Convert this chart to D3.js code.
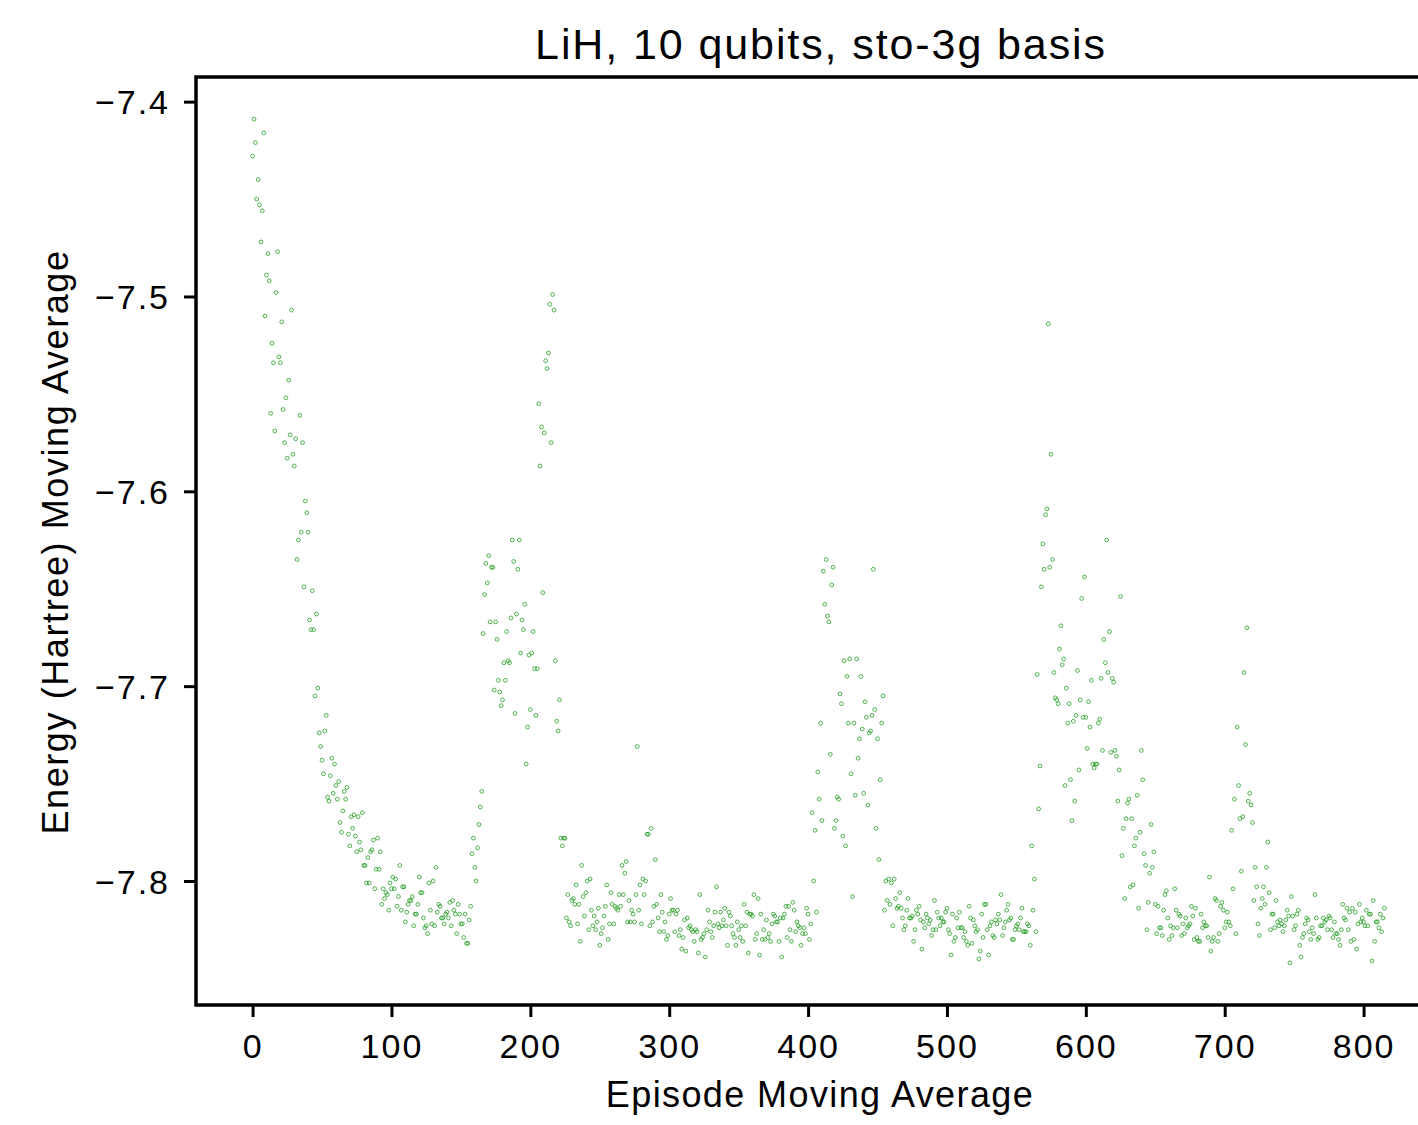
<!DOCTYPE html>
<html>
<head>
<meta charset="utf-8">
<script src="https://cdn.jsdelivr.net/npm/d3@7"></script>
<style>
  body { margin: 0; background: #fff; }
  svg { display: block; font-family: "Liberation Sans", Arial, sans-serif; }
</style>
</head>
<body>
<svg id="chart" width="1418" height="1125"></svg>
<script>
// energies, one array per stretch of episodes (episode = position in the joined list)
var energyA = [
  -7.428,-7.409,-7.421,-7.450,-7.440,-7.453,-7.472,-7.456,-7.416,-7.510,
  -7.489,-7.478,-7.492,-7.560,-7.524,-7.534,-7.569,-7.498,-7.477,-7.531,
  -7.534,-7.513,-7.558,-7.575,-7.552,-7.583,-7.543,-7.571,-7.507,-7.581,
  -7.587,-7.573,-7.635,-7.625,-7.561,-7.621,-7.575,-7.649,-7.605,-7.611,
  -7.621,-7.666,-7.671,-7.651,-7.671,-7.705,-7.663,-7.701,-7.724,-7.731,
  -7.738,-7.745,-7.723,-7.715,-7.757,-7.759,-7.746,-7.737,-7.755,-7.740,
  -7.751,-7.758,-7.749,-7.770,-7.775,-7.764,-7.754,-7.758,-7.752,-7.776,
  -7.782,-7.767,-7.773,-7.766,-7.777,-7.785,-7.767,-7.780,-7.784,-7.765,
  -7.792,-7.792,-7.801,-7.788,-7.801,-7.785,-7.784,-7.779,-7.804,-7.794,
  -7.778,-7.794,-7.785,-7.812,-7.804,-7.809,-7.806,-7.807,-7.815,-7.801
];
var energyB = [
  -7.804,-7.798,-7.804,-7.799,-7.813,-7.808,-7.792,-7.815,-7.803,-7.803,
  -7.821,-7.816,-7.812,-7.810,-7.810,-7.808,-7.823,-7.817,-7.817,-7.812,
  -7.798,-7.806,-7.806,-7.819,-7.824,-7.823,-7.827,-7.801,-7.815,-7.822,
  -7.800,-7.823,-7.793,-7.816,-7.812,-7.813,-7.819,-7.819,-7.822,-7.817,
  -7.816,-7.819,-7.811,-7.823,-7.810,-7.815,-7.817,-7.827,-7.812,-7.817,
  -7.822,-7.822,-7.829,-7.817,-7.832,-7.832,-7.820,-7.813,-7.786,-7.778,
  -7.793,-7.800,-7.783,-7.771,-7.762,-7.754,-7.673,-7.653,-7.637,-7.647,
  -7.633,-7.667,-7.639,-7.639,-7.702,-7.667,-7.676,-7.697,-7.703,-7.710,
  -7.707,-7.688,-7.697,-7.672,-7.687,-7.688,-7.665,-7.625,-7.636,-7.714,
  -7.663,-7.640,-7.625,-7.683,-7.666,-7.671,-7.658,-7.740,-7.721,-7.684
];
var energyC = [
  -7.712,-7.683,-7.672,-7.691,-7.715,-7.691,-7.555,-7.587,-7.567,-7.652,
  -7.570,-7.533,-7.537,-7.529,-7.504,-7.575,-7.499,-7.507,-7.687,-7.718,
  -7.723,-7.707,-7.778,-7.782,-7.778,-7.778,-7.819,-7.807,-7.821,-7.823,
  -7.810,-7.809,-7.812,-7.802,-7.822,-7.812,-7.831,-7.792,-7.808,-7.818,
  -7.806,-7.800,-7.825,-7.799,-7.815,-7.823,-7.818,-7.825,-7.821,-7.814,
  -7.833,-7.827,-7.824,-7.818,-7.813,-7.802,-7.830,-7.822,-7.806,-7.812,
  -7.822,-7.813,-7.814,-7.815,-7.807,-7.813,-7.792,-7.807,-7.796,-7.790,
  -7.821,-7.810,-7.821,-7.815,-7.817,-7.821,-7.807,-7.731,-7.815,-7.802,
  -7.822,-7.799,-7.807,-7.800,-7.776,-7.776,-7.823,-7.773,-7.821,-7.813,
  -7.789,-7.812,-7.819,-7.826,-7.807,-7.816,-7.826,-7.821,-7.830,-7.828
];
var energyD = [
  -7.817,-7.809,-7.815,-7.815,-7.826,-7.817,-7.815,-7.828,-7.825,-7.835,
  -7.829,-7.820,-7.836,-7.819,-7.824,-7.823,-7.825,-7.826,-7.831,-7.825,
  -7.826,-7.837,-7.807,-7.830,-7.829,-7.827,-7.839,-7.825,-7.815,-7.821,
  -7.826,-7.829,-7.823,-7.816,-7.803,-7.822,-7.824,-7.816,-7.823,-7.820,
  -7.814,-7.823,-7.833,-7.816,-7.818,-7.823,-7.827,-7.829,-7.833,-7.821,
  -7.825,-7.829,-7.823,-7.831,-7.812,-7.823,-7.816,-7.837,-7.817,-7.817,
  -7.818,-7.807,-7.830,-7.827,-7.809,-7.838,-7.817,-7.830,-7.825,-7.830,
  -7.820,-7.829,-7.827,-7.831,-7.822,-7.817,-7.818,-7.821,-7.821,-7.831,
  -7.819,-7.839,-7.819,-7.817,-7.813,-7.829,-7.813,-7.825,-7.831,-7.811,
  -7.815,-7.826,-7.821,-7.823,-7.824,-7.833,-7.827,-7.824,-7.827,-7.814,
  -7.817,-7.830
];
var energyE = [
  -7.822,-7.765,-7.800,-7.774,-7.816,-7.744,-7.758,-7.719,-7.769,-7.641,
  -7.658,-7.635,-7.664,-7.667,-7.735,-7.648,-7.639,-7.773,-7.769,-7.757,
  -7.758,-7.704,-7.709,-7.777,-7.687,-7.782,-7.695,-7.719,-7.686,-7.745,
  -7.808,-7.719,-7.756,-7.686,-7.737,-7.727,-7.695,-7.722,-7.755,-7.708,
  -7.716,-7.761,-7.724,-7.723,-7.715,-7.640,-7.712,-7.773,-7.727,-7.789,
  -7.748,-7.719,-7.705,-7.815,-7.800,-7.810,-7.799,-7.812,-7.801,-7.823,
  -7.799,-7.809,-7.814,-7.813,-7.806,-7.814,-7.819,-7.825,-7.823,-7.815,
  -7.809,-7.819,-7.819,-7.818,-7.831,-7.825,-7.815,-7.817,-7.813,-7.820,
  -7.835,-7.821,-7.824,-7.817,-7.819,-7.822,-7.820,-7.828,-7.825,-7.810,
  -7.825,-7.816,-7.819,-7.823,-7.819,-7.821,-7.821,-7.816
];
var energyF = [
  -7.814,-7.825,-7.827,-7.838,-7.817,-7.831,-7.829,-7.819,-7.824,-7.816,
  -7.824,-7.824,-7.829,-7.826,-7.831,-7.833,-7.813,-7.819,-7.832,-7.820,
  -7.823,-7.826,-7.825,-7.840,-7.836,-7.817,-7.829,-7.812,-7.812,-7.825,
  -7.838,-7.823,-7.821,-7.828,-7.829,-7.820,-7.822,-7.817,-7.820,-7.807,
  -7.828,-7.824,-7.821,-7.815,-7.812,-7.820,-7.819,-7.830,-7.830,-7.825,
  -7.823,-7.822,-7.825,-7.819,-7.814,-7.826,-7.826,-7.826,-7.822,-7.823,
  -7.833,-7.782,-7.815,-7.799,-7.826,-7.694,-7.763,-7.741,-7.649,-7.627,
  -7.640,-7.612,-7.609,-7.514,-7.639,-7.581,-7.635,-7.693,-7.706,-7.707,
  -7.709,-7.681,-7.669,-7.689,-7.686,-7.751,-7.701,-7.719,-7.709,-7.748,
  -7.769,-7.718,-7.759,-7.715,-7.692,-7.743,-7.707,-7.655,-7.716,-7.644
];
var energyG = [
  -7.716,-7.732,-7.708,-7.721,-7.697,-7.740,-7.742,-7.740,-7.740,-7.719,
  -7.717,-7.696,-7.733,-7.676,-7.688,-7.625,-7.693,-7.672,-7.734,-7.696,
  -7.698,-7.733,-7.736,-7.759,-7.743,-7.654,-7.787,-7.773,-7.809,-7.768,
  -7.760,-7.758,-7.803,-7.768,-7.802,-7.782,-7.778,-7.756,-7.814,-7.775,
  -7.733,-7.748,-7.786,-7.792,-7.825,-7.811,-7.796,-7.771,-7.793,-7.785,
  -7.812,-7.827,-7.813,-7.824,-7.824,-7.828,-7.815,-7.807,-7.805,-7.819,
  -7.830,-7.823,-7.828,-7.824,-7.804,-7.815,-7.824,-7.817,-7.818,-7.828,
  -7.822,-7.827,-7.819,-7.824,-7.823,-7.822,-7.813,-7.818,-7.830,-7.814,
  -7.829,-7.831,-7.831,-7.817,-7.824,-7.821,-7.823,-7.823,-7.829,-7.798,
  -7.836,-7.831,-7.829,-7.809,-7.810,-7.831,-7.827,-7.813,-7.811,-7.815
];
var energyH = [
  -7.824,-7.821,-7.816,-7.821,-7.823,-7.774,-7.804,-7.758,-7.827,-7.721,
  -7.751,-7.768,-7.795,-7.767,-7.693,-7.730,-7.670,-7.759,-7.755,-7.761,
  -7.770,-7.810,-7.793,-7.803,-7.822,-7.828,-7.814,-7.809,-7.803,-7.812,
  -7.793,-7.780,-7.806,-7.825,-7.817,-7.817,-7.824,-7.810,-7.821,-7.823,
  -7.820,-7.822,-7.826,-7.823,-7.820,-7.815,-7.818,-7.842,-7.808,-7.818,
  -7.825,-7.823,-7.817,-7.815,-7.833,-7.839,-7.829,-7.827,-7.822,-7.819,
  -7.820,-7.826,-7.830,-7.824,-7.827,-7.807,-7.819,-7.830,-7.829,-7.823,
  -7.823,-7.819,-7.821,-7.820,-7.825,-7.818,-7.819,-7.825,-7.829,-7.821,
  -7.827,-7.827,-7.830,-7.833,-7.825,-7.812,-7.819,-7.820,-7.814,-7.825,
  -7.816,-7.831,-7.814,-7.830,-7.816,-7.835,-7.822,-7.812,-7.821,-7.819,
  -7.821,-7.823,-7.815,-7.823,-7.817,-7.817,-7.841,-7.810,-7.831,-7.821,
  -7.821,-7.824,-7.817,-7.826,-7.819,-7.814
];

var xTicks = [0, 100, 200, 300, 400, 500, 600, 700, 800];
var yTicks = [-7.8, -7.7, -7.6, -7.5, -7.4];

var energies = [].concat(energyA, energyB, energyC, energyD, energyE, energyF, energyG, energyH);
var points = energies.map((e, i) => ({ episode: i, energy: e }));

var margin = { top: 77, left: 196 },
    width = 1245,
    height = 928;

var svg = d3.select("#chart");
var g = svg.append("g")
    .attr("transform", "translate(" + margin.left + "," + margin.top + ")");

// matplotlib style 5% padding around the data
var xPad = (points.length - 1) * 0.05;
var yExt = d3.extent(energies), yPad = (yExt[1] - yExt[0]) * 0.05;

var x = d3.scaleLinear()
    .domain([-xPad, points.length - 1 + xPad])
    .range([0, width]);
var y = d3.scaleLinear()
    .domain([yExt[0] - yPad, yExt[1] + yPad])
    .range([height, 0]);

g.append("g")
    .selectAll("circle")
    .data(points)
    .enter().append("circle")
    .attr("cx", d => x(d.episode))
    .attr("cy", d => y(d.energy))
    .attr("r", 1.9)
    .attr("fill", "none")
    .attr("stroke", "#1a9a1a")
    .attr("stroke-width", 0.75);

var xAxis = g.append("g")
    .attr("transform", "translate(0," + height + ")")
    .call(d3.axisBottom(x).tickValues(xTicks).tickSize(12).tickSizeOuter(0).tickPadding(17));

var yAxis = g.append("g")
    .call(d3.axisLeft(y).tickValues(yTicks).tickFormat(d3.format(".1f")).tickSize(12).tickSizeOuter(0).tickPadding(14));

[xAxis, yAxis].forEach(function(ax) {
    ax.select(".domain").remove();
    ax.selectAll(".tick line").attr("stroke", "#000").attr("stroke-width", 3);
    ax.selectAll(".tick text")
        .attr("fill", "#000")
        .style("font-family", "'Liberation Sans', Arial, sans-serif")
        .style("font-size", "34px")
        .style("letter-spacing", "2px");
});
yAxis.selectAll(".tick text").attr("dy", "0.36em");
xAxis.selectAll(".tick text").attr("dy", "0.72em");

// frame
g.append("rect")
    .attr("x", 0)
    .attr("y", 0)
    .attr("width", width)
    .attr("height", height)
    .attr("fill", "none")
    .attr("stroke", "#000")
    .attr("stroke-width", 3.5);

svg.append("text")
    .attr("x", 820)
    .attr("y", 1107)
    .attr("text-anchor", "middle")
    .style("font-size", "36px")
    .style("letter-spacing", "1.4px")
    .text("Episode Moving Average");

svg.append("text")
    .attr("transform", "translate(68,542) rotate(-90)")
    .attr("text-anchor", "middle")
    .style("font-size", "36px")
    .style("letter-spacing", "1.6px")
    .text("Energy (Hartree) Moving Average");

svg.append("text")
    .attr("x", 821)
    .attr("y", 59)
    .attr("text-anchor", "middle")
    .style("font-size", "43px")
    .style("letter-spacing", "1.9px")
    .text("LiH, 10 qubits, sto-3g basis");
</script>
</body>
</html>
